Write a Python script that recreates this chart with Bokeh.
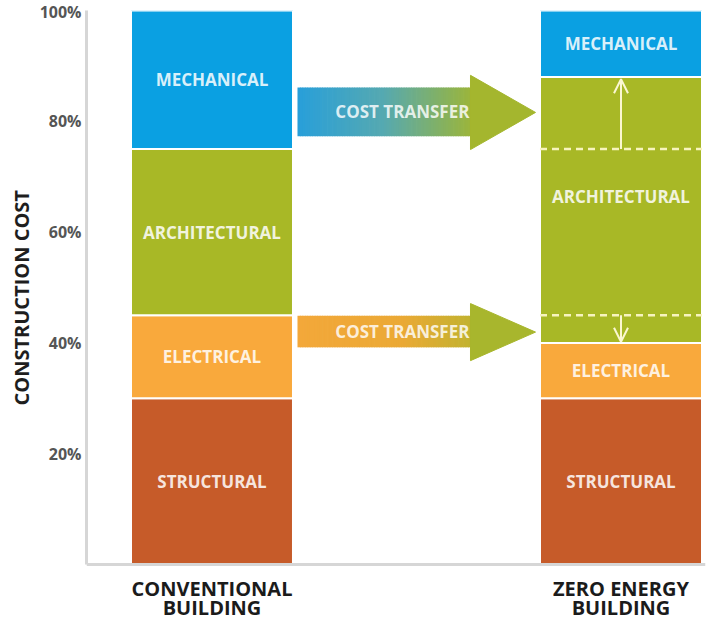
import numpy as np
from bokeh.plotting import figure
from bokeh.models import Range1d, FixedTicker, Arrow, OpenHead, Span, Title
from bokeh.core.properties import value
from bokeh.embed import file_html
from bokeh.resources import INLINE

# ---------------- data ----------------
buildings = ["CONVENTIONAL\nBUILDING", "ZERO ENERGY\nBUILDING"]
segments = ["STRUCTURAL", "ELECTRICAL", "ARCHITECTURAL", "MECHANICAL"]
structural = [30, 30]
electrical = [15, 10]
architectural = [30, 48]
mechanical = [25, 12]
tick_values = [20, 40, 60, 80, 100]
tick_labels = ["20%", "40%", "60%", "80%", "100%"]
axis_title = "CONSTRUCTION COST"
transfer_text = "COST TRANSFER"

seg_colors = ["#c65b29", "#f9a93c", "#a8b826", "#0aa0e2"]
FONT = "Open Sans"
AXIS_COL = "#d6d6d6"

# ---------------- layout ----------------
W, H = 709, 623
ML, MR, MT = 86, 4, 10
BASE_PX = 564                       # pixel row of the 0 % baseline
frame_w = W - ML - MR
pxu_y = (BASE_PX - MT) / 100.0
Y0 = -(H - BASE_PX) / pxu_y         # frame runs to the bottom of the canvas
X0 = 0.69315
pxu_x = 409.0
X1 = X0 + frame_w / pxu_x
BAR_W = 0.396
xs = [1, 2]

p = figure(width=W, height=H, x_range=Range1d(X0, X1), y_range=Range1d(Y0, 100),
           output_backend="svg", toolbar_location=None,
           min_border_left=ML, min_border_right=MR, min_border_top=MT,
           min_border_bottom=0, outline_line_color=None)
p.xgrid.visible = False
p.ygrid.visible = False
p.xaxis.visible = False

ax = p.yaxis
ax.bounds = (0, 100)
ax.axis_line_color = AXIS_COL
ax.axis_line_width = 3
ax.major_tick_line_color = None
ax.minor_tick_line_color = None
ax.major_tick_out = 0
ax.major_tick_in = 0
ax.ticker = FixedTicker(ticks=tick_values)
ax.major_label_overrides = {v: t for v, t in zip(tick_values, tick_labels)}
ax.major_label_text_font = FONT
ax.major_label_text_font_style = "bold"
ax.major_label_text_font_size = "16px"
ax.major_label_text_color = "#555555"
ax.major_label_standoff = 5

# y-axis title: starts just above the baseline region, reads bottom to top
p.add_layout(Title(text=axis_title, align="left", offset=(H - BASE_PX) + 159,
                   standoff=4, text_font=FONT, text_font_style="bold",
                   text_font_size="20px", text_color="#1e1e1e"), "left")

# baseline (x axis line)
p.add_layout(Span(location=0, dimension="width", line_color=AXIS_COL, line_width=3))

# category labels under the bars
cat_lines = [b.split("\n") for b in buildings]
for li in range(2):
    p.text(x=xs, y=[-(24 + 19 * li) / pxu_y] * len(xs),
           text=[c[li] for c in cat_lines], text_align="center", text_baseline="middle",
           text_font=value(FONT), text_font_style="bold", text_font_size="20px",
           text_color="#1b1b1b")

# ---------------- stacked bars ----------------
data = {"x": xs, "STRUCTURAL": structural, "ELECTRICAL": electrical,
        "ARCHITECTURAL": architectural, "MECHANICAL": mechanical}
p.vbar_stack(segments, x="x", width=BAR_W, color=seg_colors, source=data,
             line_color="white", line_width=2)

# segment labels
stacks = [structural, electrical, architectural, mechanical]
conv_arch_top = structural[0] + electrical[0] + architectural[0]
conv_elec_top = structural[0] + electrical[0]
ze_arch_top = structural[1] + electrical[1] + architectural[1]
ze_elec_top = structural[1] + electrical[1]
lx, ly, lt = [], [], []
for bi in range(2):
    bottom = 0
    for si, seg in enumerate(segments):
        top = bottom + stacks[si][bi]
        mid = (bottom + top) / 2
        if bi == 1 and seg == "ARCHITECTURAL":
            mid = (conv_elec_top + top) / 2
        lx.append(xs[bi]); ly.append(mid); lt.append(seg)
        bottom = top
p.text(x=lx, y=ly, text=lt, text_align="center", text_baseline="middle",
       text_font=value(FONT), text_font_style="bold", text_font_size="17px",
       text_color="white", text_alpha=0.86)

# dashed former boundaries in the zero energy bar
p.segment(x0=[xs[1] - BAR_W / 2] * 2, x1=[xs[1] + BAR_W / 2] * 2,
          y0=[conv_arch_top, conv_elec_top], y1=[conv_arch_top, conv_elec_top],
          line_color="#f7f4bf", line_width=2.5, line_dash="7 5")

arrow_col = "#fbf7d2"
p.add_layout(Arrow(end=OpenHead(size=14, line_color=arrow_col, line_width=2),
                   x_start=xs[1], y_start=conv_arch_top, x_end=xs[1], y_end=ze_arch_top - 0.4,
                   line_color=arrow_col, line_width=2))
p.add_layout(Arrow(end=OpenHead(size=14, line_color=arrow_col, line_width=2),
                   x_start=xs[1], y_start=conv_elec_top, x_end=xs[1], y_end=ze_elec_top + 0.2,
                   line_color=arrow_col, line_width=2))

# ---------------- cost transfer arrows ----------------
def hex2rgb(h):
    h = h.lstrip("#")
    return np.array([int(h[i:i + 2], 16) for i in (0, 2, 4)], dtype=float)

def grad(stops, t):
    ts = [s[0] for s in stops]
    cs = [hex2rgb(s[1]) for s in stops]
    out = []
    for tt in t:
        c = [np.interp(tt, ts, [cc[k] for cc in cs]) for k in range(3)]
        out.append("#%02x%02x%02x" % tuple(int(round(v)) for v in c))
    return out

def transfer_arrow(bx0, hx0, tip, body_b, body_t, head_b, head_t, stops, head_col):
    n = 70
    edges = np.linspace(bx0, hx0, n + 1)
    cols = grad(stops, (np.arange(n) + 0.5) / n)
    p.quad(left=edges[:-1], right=edges[1:] + (edges[1] - edges[0]) * 0.3,
           bottom=[body_b] * n, top=[body_t] * n,
           fill_color=cols, line_color=None)
    p.patch([hx0, hx0, tip], [head_t, head_b, (head_t + head_b) / 2],
            fill_color=head_col, line_color=head_col, line_width=1)
    p.text(x=[(bx0 + hx0) / 2 + 0.045], y=[(body_b + body_t) / 2], text=[transfer_text],
           text_align="center", text_baseline="middle", text_font=value(FONT),
           text_font_style="bold", text_font_size="17px",
           text_color="white", text_alpha=0.82)

BX0, HX0, TIP = 1.2090, 1.6320, 1.7910
transfer_arrow(BX0, HX0, TIP, 77.3, 86.1, 74.9, 88.3,
               [(0, "#289fda"), (0.5, "#56a9b0"), (1, "#9bb53b")], "#a4b62e")
transfer_arrow(BX0, HX0, TIP, 39.2, 44.9, 36.8, 47.1,
               [(0, "#f3a83a"), (0.6, "#eba935"), (1, "#c2b22f")], "#a8b62d")

open("out.html", "w").write(file_html(p, INLINE))
